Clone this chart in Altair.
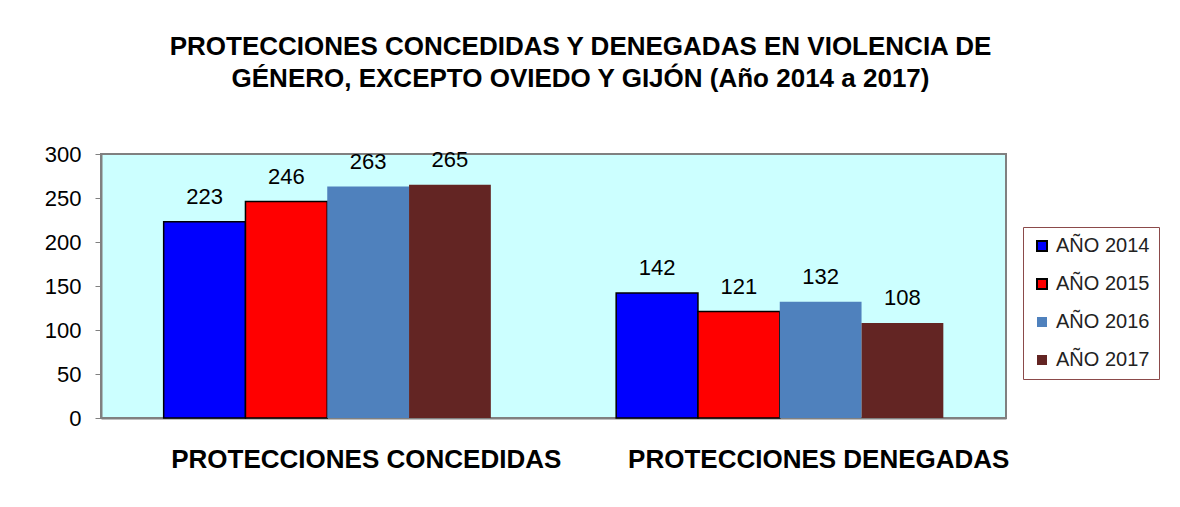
import altair as alt
import pandas as pd

categories = ["PROTECCIONES CONCEDIDAS", "PROTECCIONES DENEGADAS"]
years = ["AÑO 2014", "AÑO 2015", "AÑO 2016", "AÑO 2017"]
concedidas = [223, 246, 263, 265]
denegadas = [142, 121, 132, 108]
colors = ["#0000FF", "#FF0000", "#4F81BD", "#632523"]
strokes = ["#000000", "#000000", "transparent", "transparent"]

rows = []
for y, v in zip(years, concedidas):
    rows.append({"cat": categories[0], "year": y, "value": v})
for y, v in zip(years, denegadas):
    rows.append({"cat": categories[1], "year": y, "value": v})
df = pd.DataFrame(rows)

FONT = "Liberation Sans"

x = alt.X("cat:N", sort=categories,
          scale=alt.Scale(paddingInner=0.277, paddingOuter=0.1385),
          axis=alt.Axis(title=None, labelAngle=0, ticks=False, domain=True,
                        domainColor="#808080", domainWidth=2, labelLimit=0,
                        labelFont=FONT, labelFontSize=26, labelFontWeight="bold",
                        labelColor="black", labelPadding=28, labelOffset=39))
xo = alt.XOffset("year:N", sort=years)
yenc = alt.Y("value:Q", scale=alt.Scale(domain=[0, 300]),
             axis=alt.Axis(title=None, values=[0, 50, 100, 150, 200, 250, 300],
                           grid=False, tickSize=6, tickColor="#808080",
                           domainColor="#808080", domainWidth=2,
                           labelFont=FONT, labelFontSize=22, labelColor="black",
                           labelPadding=14))

bars = alt.Chart(df).mark_bar(strokeWidth=1.5).encode(
    x=x, xOffset=xo, y=yenc,
    color=alt.Color("year:N", sort=years,
                    scale=alt.Scale(domain=years, range=colors),
                    legend=alt.Legend(title=None, orient="none", legendX=922, legendY=73,
                                      labelFont=FONT, labelFontSize=20, labelColor="#222222",
                                      symbolType="square", symbolSize=100,
                                      symbolStrokeWidth=2, rowPadding=18,
                                      padding=9, strokeColor="#8B4A4A",
                                      fillColor="white", labelOffset=4)),
    stroke=alt.Stroke("year:N", sort=years,
                      scale=alt.Scale(domain=years, range=strokes), legend=None),
)

labels = alt.Chart(df).mark_text(font=FONT, fontSize=22, color="black", dy=-25).encode(
    x=x, xOffset=xo, y=yenc, text="value:Q")

chart = alt.layer(bars, labels).properties(
    width=905, height=264,
    padding={"left": 93, "top": 146, "right": 164, "bottom": 75},
    autosize="none",
    background="white",
    title=alt.Title(["PROTECCIONES CONCEDIDAS Y DENEGADAS EN VIOLENCIA DE",
                     "GÉNERO, EXCEPTO OVIEDO Y GIJÓN (Año 2014 a 2017)"],
                    font=FONT, fontSize=26, fontWeight="bold", color="black",
                    anchor="middle", dx=27, offset=51, lineHeight=32),
).configure_view(fill="#CCFFFF", stroke="#808080", strokeWidth=2)

chart.save("out.html", embed_options={"renderer": "svg", "actions": False})
